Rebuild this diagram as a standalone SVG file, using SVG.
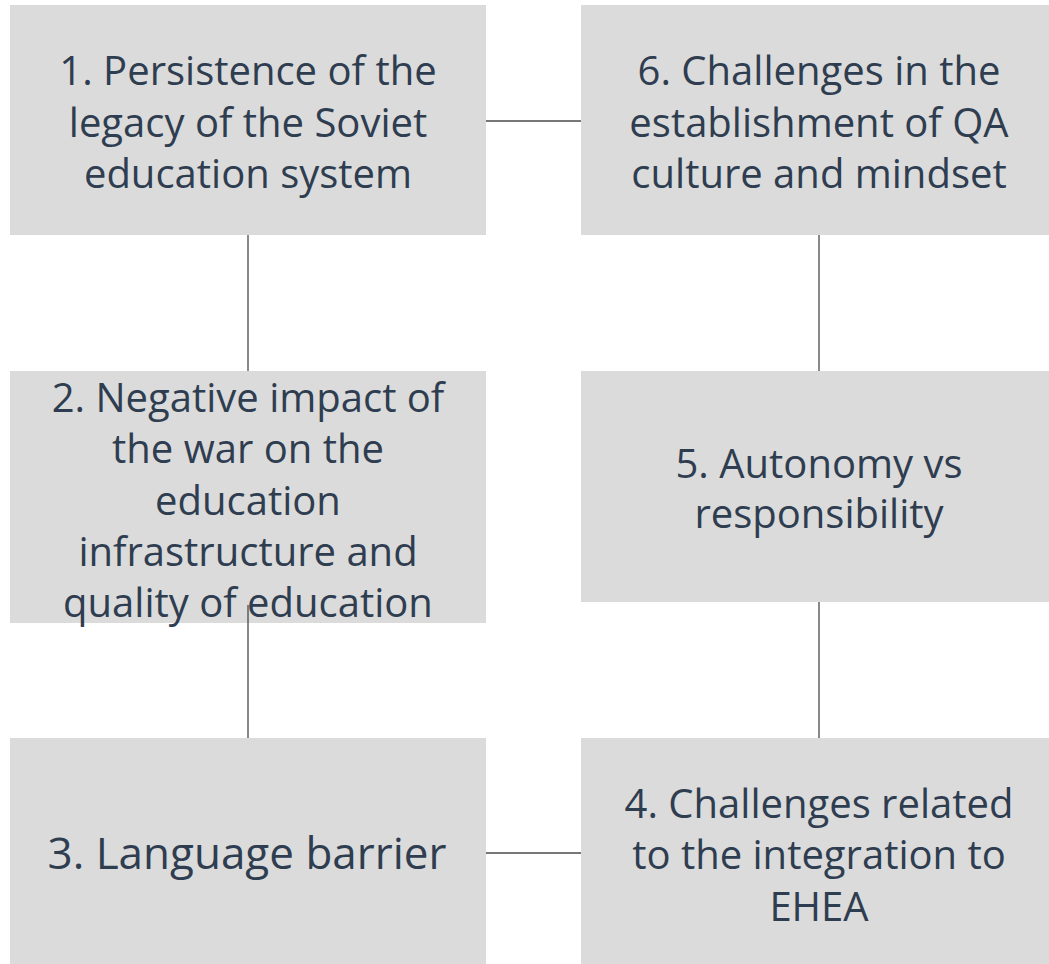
<svg xmlns="http://www.w3.org/2000/svg" width="1049" height="964" viewBox="0 0 1049 964">
<style>
.box{fill:#dbdbdb}
.t{font-family:"Open Sans","Noto Sans","Liberation Sans",sans-serif;font-size:40px;fill:#2f3d50;text-anchor:middle}
.big{font-size:44px}
.c{stroke:#4a4a4a;stroke-width:1.3;fill:none}
</style>
<rect width="1049" height="964" fill="#ffffff"/>
<g id="node1">
<rect class="box" x="10" y="5" width="476" height="230"/>
<text class="t" x="248" y="85">1. Persistence of the</text>
<text class="t" x="248" y="137">legacy of the Soviet</text>
<text class="t" x="248" y="188">education system</text>
</g>
<g id="node6">
<rect class="box" x="581" y="5" width="476" height="230"/>
<text class="t" x="819" y="85">6. Challenges in the</text>
<text class="t" x="819" y="137">establishment of QA</text>
<text class="t" x="819" y="188">culture and mindset</text>
</g>
<g id="node2">
<rect class="box" x="10" y="371" width="476" height="252"/>
<text class="t" x="248" y="412">2. Negative impact of</text>
<text class="t" x="248" y="463">the war on the</text>
<text class="t" x="248" y="515">education</text>
<text class="t" x="248" y="566">infrastructure and</text>
<text class="t" x="248" y="617">quality of education</text>
</g>
<g id="node5">
<rect class="box" x="581" y="371" width="476" height="231"/>
<text class="t" x="819" y="478">5. Autonomy vs</text>
<text class="t" x="819" y="528">responsibility</text>
</g>
<g id="node3">
<rect class="box" x="10" y="738" width="476" height="226"/>
<text class="t big" x="247" y="869">3. Language barrier</text>
</g>
<g id="node4">
<rect class="box" x="581" y="738" width="476" height="226"/>
<text class="t" x="819" y="818">4. Challenges related</text>
<text class="t" x="819" y="869">to the integration to</text>
<text class="t" x="819" y="921">EHEA</text>
</g>
<g id="connectors">
<line class="c" x1="486" y1="121" x2="581" y2="121"/>
<line class="c" x1="248" y1="235" x2="248" y2="371"/>
<line class="c" x1="248" y1="605" x2="248" y2="738"/>
<line class="c" x1="819" y1="235" x2="819" y2="371"/>
<line class="c" x1="819" y1="602" x2="819" y2="738"/>
<line class="c" x1="486" y1="853" x2="581" y2="853"/>
</g>
</svg>
